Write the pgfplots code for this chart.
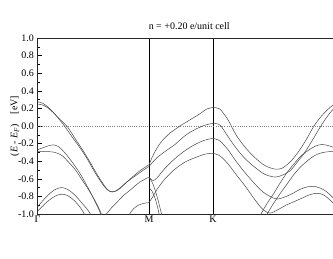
\documentclass[border=0pt]{standalone}
\usepackage{fontspec}
\setmainfont{Liberation Serif}
\usepackage{pgfplots}
\pgfplotsset{compat=1.18}
\begin{document}
\begin{tikzpicture}[band/.style={black!72, line width=0.5pt, smooth, tension=0.5, no marks}]
\begin{axis}[
  at={(37.5pt,44pt)}, anchor=south west,
  scale only axis, width=303.5pt, height=176pt,
  xmin=0, xmax=303.5, ymin=-1, ymax=1,
  xtick={0,111.5,175.5,303.5}, xticklabels={Γ,M,K,{}},
  major x tick style={draw=none},
  xmajorgrids, major x grid style={black, line width=0.9pt},
  xticklabel style={yshift=2pt},
  ytick={-1,-0.8,-0.6,-0.4,-0.2,0,0.2,0.4,0.6,0.8,1},
  minor y tick num=1, ytick pos=left, tick align=inside,
  major tick length=5pt, minor tick length=2.5pt,
  every tick/.style={black, line width=0.6pt},
  yticklabel style={/pgf/number format/.cd, fixed, fixed zerofill, precision=1, assume math mode=true},
  ylabel={(\textit{E} - \textit{E}\textsubscript{\textit{F}})\quad[eV]},
  ylabel style={at={(axis description cs:-0.0741,0.5)}, anchor=center},
  title={n = +0.20 e/unit cell},
  title style={at={(axis description cs:0.5,1)}, anchor=south, yshift=1pt, inner sep=1pt},
  axis line style={line width=1pt, black!85},
  clip=true,
]
\addplot[gray, line width=0.5pt, dash pattern=on 1pt off 1.2pt, no marks] coordinates {(0,0) (303.5,0)};
% Gamma - M
\addplot[band] coordinates {(0,0.275)(5,0.26)(10,0.22)(15,0.165)(20,0.10)(27,0.0)(35,-0.13)(42,-0.24)(49,-0.36)(56,-0.50)(62,-0.61)(67,-0.69)(71,-0.735)(75,-0.75)(80,-0.725)(89,-0.64)(100,-0.53)(106,-0.48)(111.5,-0.44)};
\addplot[band] coordinates {(0,0.25)(6,0.235)(11,0.20)(16,0.15)(22,0.08)(30,-0.01)(38,-0.15)(45,-0.27)(52,-0.40)(58,-0.52)(64,-0.63)(69,-0.71)(73,-0.745)(77,-0.745)(82,-0.715)(90,-0.63)(100,-0.55)(106,-0.50)(111.5,-0.46)};
\addplot[band] coordinates {(0,-0.27)(6,-0.245)(11,-0.225)(16,-0.215)(21,-0.235)(27,-0.30)(34,-0.40)(42,-0.53)(49,-0.67)(55,-0.80)(61,-0.94)(64,-1.02)};
\addplot[band] coordinates {(0,-0.29)(8,-0.29)(15,-0.295)(20,-0.31)(25,-0.34)(31,-0.41)(38,-0.50)(45,-0.62)(52,-0.74)(58,-0.86)(62,-0.95)(65,-1.03)};
\addplot[band] coordinates {(0,-0.92)(6,-0.84)(12,-0.77)(18,-0.72)(24,-0.70)(30,-0.72)(37,-0.78)(44,-0.87)(50,-0.95)(54,-1.02)};
\addplot[band] coordinates {(0,-0.97)(6,-0.90)(12,-0.84)(18,-0.795)(24,-0.775)(30,-0.79)(37,-0.85)(43,-0.93)(48,-1.02)};
\addplot[band] coordinates {(67.5,-1.02)(74,-0.93)(80,-0.86)(86,-0.79)(92.5,-0.73)(102,-0.64)(111.5,-0.58)};
\addplot[band] coordinates {(91,-1.02)(96,-0.94)(101,-0.90)(106,-0.88)(111.5,-0.87)};
% M - K
\addplot[band] coordinates {(111.5,-0.44)(114.5,-0.36)(118.5,-0.27)(124.5,-0.17)(132.5,-0.08)(142.5,0.0)(152.5,0.07)(162.5,0.14)(169.5,0.195)(175.5,0.21)};
\addplot[band] coordinates {(111.5,-0.46)(114.5,-0.42)(119.5,-0.36)(127.5,-0.29)(137.5,-0.21)(147.5,-0.11)(157.5,-0.04)(167.5,0.01)(175.5,0.03)};
\addplot[band] coordinates {(111.5,-0.58)(115.5,-0.62)(119.5,-0.59)(127.5,-0.48)(137.5,-0.37)(147.5,-0.28)(157.5,-0.21)(167.5,-0.16)(175.5,-0.14)};
\addplot[band] coordinates {(111.5,-0.87)(115.5,-0.80)(119.5,-0.72)(127.5,-0.60)(137.5,-0.49)(147.5,-0.41)(157.5,-0.36)(167.5,-0.32)(175.5,-0.31)};
\addplot[band] coordinates {(111.5,-0.58)(115.5,-0.66)(119.5,-0.80)(122.5,-0.93)(124.5,-1.02)};
\addplot[band] coordinates {(111.5,-0.70)(114.5,-0.74)(117.5,-0.82)(120,-0.92)(122,-1.02)};
% K - Gamma
\addplot[band] coordinates {(175.5,0.21)(182.5,0.19)(190.5,0.07)(198.5,-0.10)(207.5,-0.24)(217.5,-0.36)(227.5,-0.45)(237.5,-0.49)(244.5,-0.48)(252.5,-0.41)(260.5,-0.30)(268.5,-0.16)(276.5,0.0)(284.5,0.12)(292.5,0.21)(298.5,0.26)(303.5,0.275)};
\addplot[band] coordinates {(175.5,0.03)(182.5,0.01)(190.5,-0.12)(198.5,-0.25)(207.5,-0.37)(217.5,-0.47)(227.5,-0.55)(237.5,-0.58)(244.5,-0.56)(252.5,-0.51)(260.5,-0.40)(268.5,-0.28)(276.5,-0.13)(284.5,0.02)(292.5,0.15)(298.5,0.22)(303.5,0.25)};
\addplot[band] coordinates {(175.5,-0.14)(182.5,-0.17)(190.5,-0.27)(198.5,-0.40)(207.5,-0.53)(217.5,-0.66)(225.5,-0.75)(232.5,-0.80)(239.5,-0.83)(246.5,-0.81)(254.5,-0.77)(262.5,-0.72)(270.5,-0.69)(278.5,-0.69)(285.5,-0.72)(291.5,-0.77)(297.5,-0.84)(303.5,-0.92)};
\addplot[band] coordinates {(175.5,-0.31)(182.5,-0.34)(190.5,-0.43)(198.5,-0.55)(207.5,-0.68)(217.5,-0.84)(225.5,-0.95)(232.5,-0.99)(240.5,-0.95)(248.5,-0.90)(256.5,-0.86)(264.5,-0.82)(272.5,-0.78)(279.5,-0.765)(285.5,-0.78)(291.5,-0.83)(297.5,-0.90)(303.5,-0.97)};
\addplot[band] coordinates {(303.5,-0.27)(297.5,-0.25)(291.5,-0.225)(284.5,-0.21)(277.5,-0.23)(270.5,-0.28)(263.5,-0.34)(256.5,-0.43)(249.5,-0.53)(242.5,-0.65)(235.5,-0.78)(228.5,-0.90)(222.5,-1.02)};
\addplot[band] coordinates {(303.5,-0.29)(295.5,-0.29)(288.5,-0.295)(282.5,-0.31)(276.5,-0.34)(270.5,-0.39)(263.5,-0.46)(256.5,-0.55)(249.5,-0.66)(242.5,-0.77)(235.5,-0.89)(228.5,-1.02)};
\end{axis}
\pgfresetboundingbox
\path[use as bounding box] (0,0) rectangle (333pt,258pt);
\end{tikzpicture}
\end{document}
